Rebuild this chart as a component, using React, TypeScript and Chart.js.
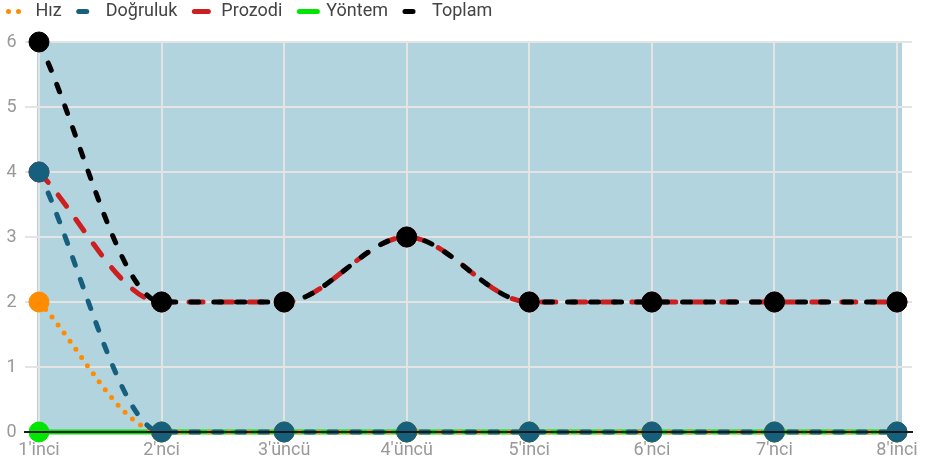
import React, { useEffect, useRef } from 'react';
import { Chart, registerables } from 'chart.js';

Chart.register(...registerables);

const categories = ["1'inci", "2'nci", "3'üncü", "4'üncü", "5'inci", "6'nci", "7'nci", "8'inci"];
const hiz = [2, 0, 0, 0, 0, 0, 0, 0];
const dogruluk = [4, 0, 0, 0, 0, 0, 0, 0];
const prozodi = [4, 2, 2, 3, 2, 2, 2, 2];
const yontem = [0, 0, 0, 0, 0, 0, 0, 0];
const toplam = [6, 2, 2, 3, 2, 2, 2, 2];
const yMin = 0;
const yMax = 6;
const yStep = 1;

const GRID = '#e4e4e4';
const BG = '#b1d4de';

const deco = {
  id: 'deco',
  beforeLayout(chart: any) {
    const lg = chart.legend;
    if (lg && !lg.__patched) {
      const fit = lg.fit;
      lg.fit = function () {
        fit.call(this);
        this.height = 56.5;
      };
      lg.__patched = true;
    }
  },
  beforeDraw(chart: any) {
    const { ctx, chartArea: a } = chart;
    ctx.save();
    ctx.fillStyle = BG;
    ctx.fillRect(a.left - 2, a.top - 1, a.right - a.left + 7, a.bottom - a.top + 1);
    ctx.restore();
  },
  beforeDatasetsDraw(chart: any) {
    const { ctx, chartArea: a } = chart;
    const y = chart.scales.y;
    ctx.save();
    ctx.strokeStyle = GRID;
    ctx.lineWidth = 2;
    y.ticks.forEach((t: any) => {
      const py = Math.round(y.getPixelForValue(t.value));
      ctx.beginPath();
      ctx.moveTo(a.right, py);
      ctx.lineTo(a.right + 15, py);
      ctx.stroke();
    });
    ctx.restore();
  },
  afterDatasetsDraw(chart: any) {
    const { ctx, chartArea: a } = chart;
    const y = chart.scales.y;
    const py = Math.round(y.getPixelForValue(0));
    ctx.save();
    ctx.strokeStyle = '#1a1a1a';
    ctx.lineWidth = 2;
    ctx.beginPath();
    ctx.moveTo(a.left - 15, py);
    ctx.lineTo(a.right + 16, py);
    ctx.stroke();
    ctx.restore();
  },
};

export default function App() {
  const ref = useRef<HTMLCanvasElement>(null);
  useEffect(() => {
    if (!ref.current) return;
    Chart.defaults.font.family = 'Roboto';
    const common = {
      borderWidth: 5,
      borderCapStyle: 'round',
      pointRadius: 10,
      pointHoverRadius: 10,
      pointBorderWidth: 1,
      cubicInterpolationMode: 'monotone',
      fill: false,
      clip: false,
    };
    const mk = (label: string, data: number[], color: string, dash: number[], order: number) => ({
      ...common,
      label,
      data,
      borderColor: color,
      backgroundColor: color,
      pointBackgroundColor: color,
      pointBorderColor: color,
      borderDash: dash,
      order,
    });
    const chart = new Chart(ref.current, {
      type: 'line',
      data: {
        labels: categories,
        datasets: [
          mk('Hız', hiz, '#ff8c00', [0, 10], 4),
          mk('Doğruluk', dogruluk, '#17607d', [8, 15], 2),
          mk('Prozodi', prozodi, '#cc1f1f', [14, 16], 3),
          mk('Yöntem', yontem, '#00e600', [], 5),
          mk('Toplam', toplam, '#000000', [8, 15], 1),
        ] as any,
      },
      options: {
        animation: false,
        responsive: false,
        layout: { padding: { top: -14.5, left: -8.5, right: 30, bottom: 0 } },
        plugins: {
          tooltip: { enabled: false },
          legend: {
            position: 'top',
            align: 'start',
            labels: {
              usePointStyle: true,
              pointStyle: 'line',
              pointStyleWidth: 18,
              padding: 17,
              color: '#444',
              font: { size: 18 },
              generateLabels: (c: any) =>
                c.data.datasets.map((ds: any, i: number) => ({
                  text: ds.label,
                  fillStyle: ds.borderColor,
                  strokeStyle: ds.borderColor,
                  lineWidth: 5,
                  lineDash: ds.borderDash,
                  lineDashOffset: 0,
                  lineCap: 'round',
                  lineJoin: 'round',
                  pointStyle: 'line',
                  rotation: 0,
                  hidden: !c.isDatasetVisible(i),
                  datasetIndex: i,
                  fontColor: '#444',
                })),
            },
          },
        },
        scales: {
          x: {
            offset: false,
            grid: { color: GRID, lineWidth: 2, drawTicks: false },
            border: { display: false },
            ticks: { color: '#999', font: { size: 18 }, padding: 8, maxRotation: 0, autoSkip: false },
            afterFit: (s: any) => {
              s.height = 32;
            },
          },
          y: {
            min: yMin,
            max: yMax,
            grid: { color: GRID, lineWidth: 2, tickLength: 14 },
            border: { display: false },
            ticks: { stepSize: yStep, color: '#999', font: { size: 18 }, padding: 8.5 },
            afterFit: (s: any) => {
              s.width = 47.5;
            },
          },
        },
      } as any,
      plugins: [deco],
    });
    return () => chart.destroy();
  }, []);
  return (
    <div style={{ position: 'fixed', left: 0, top: 0, width: 927, height: 464 }}>
      <canvas ref={ref} width={927} height={464} style={{ display: 'block' }} />
    </div>
  );
}
